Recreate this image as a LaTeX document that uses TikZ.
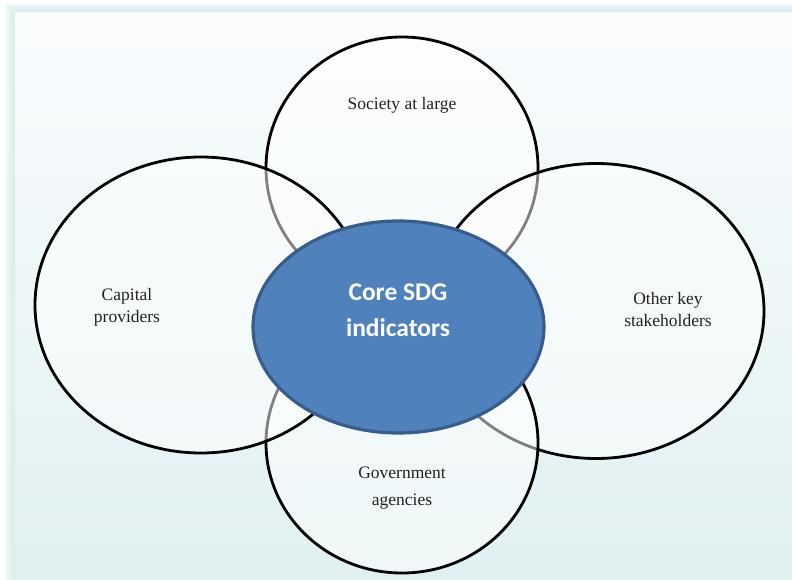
\documentclass[tikz,border=0pt]{standalone}
\usepackage{fontspec}
\setmainfont{Liberation Serif}
\newfontfamily\corefont{Carlito}
\usetikzlibrary{shapes.geometric,positioning}

\definecolor{coreblue}{HTML}{4F81BD}
\definecolor{coreedge}{HTML}{385D8A}
\definecolor{glowcyan}{HTML}{D2EAEA}
\definecolor{paneltop}{HTML}{FAFCFE}
\definecolor{panelbot}{HTML}{E0F0F1}
\definecolor{labelgray}{HTML}{222222}

\begin{document}
\begin{tikzpicture}[x=1pt,y=1pt,
        outer node/.style={ellipse,draw=black,line width=2.8pt,fill=white,
                           fill opacity=0.5,inner sep=0pt},
        core node/.style={ellipse,draw=coreedge,line width=3.2pt,fill=coreblue,
                          inner sep=0pt},
        core text/.style={align=center,text=white,
                          font=\corefont\bfseries\fontsize{25.5}{36}\selectfont},
        label node/.style={align=center,text=labelgray,
                           font=\fontsize{17.5}{22}\selectfont}]

    % Background panel
    \useasboundingbox (0,0) rectangle (792,579);
    \fill[white] (0,0) rectangle (792,579);
    \foreach \i in {1,...,10}
        \fill[glowcyan,opacity=0.13] (15-\i,-10) rectangle (800,566+\i);
    \shade[top color=paneltop,bottom color=panelbot] (15,0) rectangle (792,566);

    % Stakeholder ellipses
    \node[outer node,minimum width=272pt,minimum height=262pt] (society) at (402,411) {};
    \node[outer node,minimum width=336pt,minimum height=295pt] (others) at (596,268) {};
    \node[outer node,minimum width=272pt,minimum height=260pt] (government) at (402,136) {};
    \node[outer node,minimum width=332pt,minimum height=296pt] (capital) at (201,274) {};

    % Core
    \node[core node,minimum width=291pt,minimum height=212pt] (core) at (398.5,252) {};
    \node[core text] (core label) at (398,269) {Core SDG\\indicators};

    % Labels
    \node[label node] (society text) at (402,474) {Society at large};
    \node[label node] (others text) at (668,269) {Other key\\stakeholders};
    \node[label node,font=\fontsize{17.5}{27}\selectfont] (government text) at (402,91)
        {Government\\agencies};
    \node[label node] (capital text) at (127,272) {Capital\\providers};

\end{tikzpicture}
\end{document}
